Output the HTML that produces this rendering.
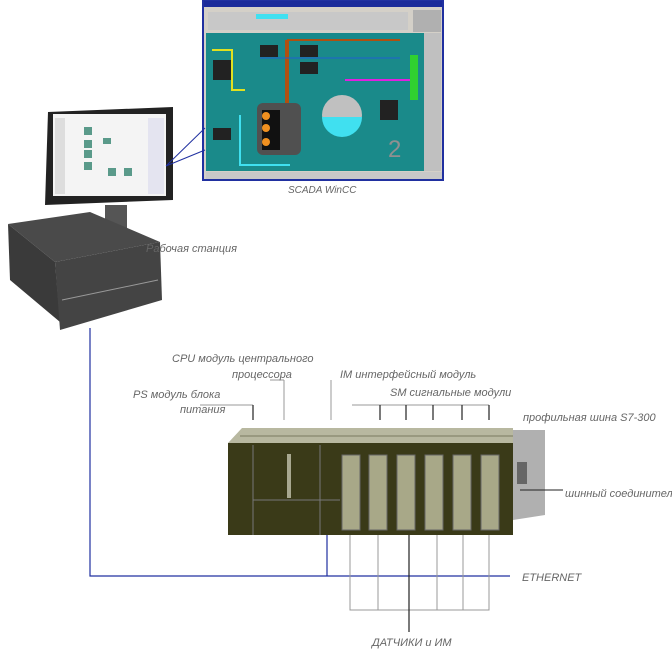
<!DOCTYPE html>
<html><head><meta charset="utf-8"><style>
body{margin:0;background:#fff;width:672px;height:652px;overflow:hidden}
svg{display:block}
text{font-family:"Liberation Sans",sans-serif;font-style:italic;fill:#666;font-size:12px}
</style></head><body>
<svg width="672" height="652" viewBox="0 0 672 652">
<!-- SCADA window -->
<rect x="203" y="0" width="240" height="180" fill="#d4d0c8" stroke="#2030a0" stroke-width="2"/>
<rect x="204" y="1" width="238" height="6" fill="#1a2a9a"/>
<rect x="208" y="12" width="200" height="18" fill="#c8c8c8"/>
<rect x="256" y="14" width="32" height="5" fill="#40e0f0"/>
<rect x="413" y="10" width="28" height="22" fill="#b0b0b0"/>
<rect x="206" y="33" width="218" height="138" fill="#1a8a8a"/>
<rect x="424" y="33" width="17" height="138" fill="#c0c0c0"/>
<rect x="410" y="55" width="8" height="45" fill="#30d030"/>
<path d="M212 50 L232 50 L232 90 L245 90" fill="none" stroke="#e0e020" stroke-width="2"/>
<path d="M287 40 L287 110" stroke="#b05010" stroke-width="4"/>
<path d="M287 40 L400 40" stroke="#b05010" stroke-width="2"/>
<path d="M260 58 L400 58" stroke="#2060d0" stroke-width="1"/>
<path d="M345 80 L410 80" stroke="#e020e0" stroke-width="2"/>
<path d="M240 115 L240 165 L290 165" fill="none" stroke="#40e0f0" stroke-width="2"/>
<g fill="#222"><rect x="300" y="45" width="18" height="12"/><rect x="300" y="62" width="18" height="12"/><rect x="260" y="45" width="18" height="12"/><rect x="380" y="100" width="18" height="20"/><rect x="213" y="60" width="18" height="20"/><rect x="213" y="128" width="18" height="12"/></g>
<rect x="257" y="103" width="44" height="52" rx="6" fill="#505050"/>
<rect x="262" y="110" width="18" height="40" fill="#111"/>
<circle cx="266" cy="116" r="4" fill="#f09020"/><circle cx="266" cy="128" r="4" fill="#f09020"/><circle cx="266" cy="142" r="4" fill="#f09020"/>
<ellipse cx="342" cy="115" rx="20" ry="20" fill="#c0c0c0"/>
<path d="M322 117 A20 20 0 0 0 362 117 Z" fill="#40e0f0"/>
<text x="388" y="157" style="font-size:24px;fill:#909090;font-style:normal">2</text>
<rect x="206" y="172" width="236" height="7" fill="#c8c8c8"/>
<text x="288" y="193" style="font-size:10px">SCADA WinCC</text>
<!-- monitor -->
<path d="M48 112 L173 107 L173 200 L45 205 Z" fill="#222"/>
<rect x="53" y="114" width="113" height="82" fill="#f4f4f4"/>
<rect x="55" y="118" width="10" height="76" fill="#ddd"/>
<rect x="148" y="118" width="16" height="76" fill="#e4e4f0"/>
<g fill="#5a9a8a"><rect x="84" y="127" width="8" height="8"/><rect x="84" y="140" width="8" height="8"/><rect x="84" y="150" width="8" height="8"/><rect x="84" y="162" width="8" height="8"/><rect x="103" y="138" width="8" height="6"/><rect x="108" y="168" width="8" height="8"/><rect x="124" y="168" width="8" height="8"/></g>
<rect x="105" y="205" width="22" height="25" fill="#555"/>
<path d="M166 166 L205 128 M166 166 L205 150" stroke="#2030a0" stroke-width="1"/>
<!-- server -->
<path d="M8 224 L90 212 L160 242 L55 262 Z" fill="#4a4a4a"/>
<path d="M8 224 L55 262 L60 322 L10 280 Z" fill="#3a3a3a"/>
<path d="M55 262 L160 242 L162 300 L60 330 Z" fill="#444"/>
<path d="M62 300 L158 280" stroke="#999" stroke-width="1"/>
<text x="146" y="252" style="font-size:11px">Рабочая станция</text>
<!-- ethernet -->
<path d="M90 328 L90 576 L510 576 M327 533 L327 576" stroke="#2030a0" stroke-width="1.2" fill="none"/>
<text x="522" y="581" style="font-size:11px">ETHERNET</text>
<!-- PLC -->
<path d="M228 443 L242 428 L513 428 L513 443 Z" fill="#b8b8a0"/>
<g stroke="#7a7a60" stroke-width="1"><path d="M240 436 L513 436"/></g>
<rect x="228" y="443" width="285" height="92" fill="#3a3a18"/>
<path d="M253 445 L253 535 M320 445 L320 535 M253 500 L340 500" stroke="#777" stroke-width="1"/>
<rect x="287" y="454" width="4" height="44" fill="#a8a890"/>
<g fill="#a8a888" stroke="#666"><rect x="342" y="455" width="18" height="75"/><rect x="369" y="455" width="18" height="75"/><rect x="397" y="455" width="18" height="75"/><rect x="425" y="455" width="18" height="75"/><rect x="453" y="455" width="18" height="75"/><rect x="481" y="455" width="18" height="75"/></g>
<path d="M513 430 L545 430 L545 515 L513 520 Z" fill="#b0b0b0"/>
<rect x="517" y="462" width="10" height="22" fill="#666"/>
<!-- labels -->
<g stroke="#999" stroke-width="1" fill="none">
<path d="M200 405 L253 405 M270 380 L284 380 M284 380 L284 420 M331 380 L331 420 M352 405 L489 405"/>
<path d="M520 490 L563 490" stroke="#222"/>
</g>
<g stroke="#222" stroke-width="1.2"><path d="M253 405 L253 420 M380 405 L380 420 M406 405 L406 420 M433 405 L433 420 M462 405 L462 420 M489 405 L489 420"/></g>
<text x="172" y="362" style="font-size:11px">CPU модуль центрального</text>
<text x="232" y="378" style="font-size:11px">процессора</text>
<text x="133" y="398" style="font-size:11px">PS модуль блока</text>
<text x="180" y="413" style="font-size:11px">питания</text>
<text x="340" y="378" style="font-size:11px">IM интерфейсный модуль</text>
<text x="390" y="396" style="font-size:11px">SM сигнальные модули</text>
<text x="523" y="421" style="font-size:11px">профильная шина S7-300</text>
<text x="565" y="497" style="font-size:11px">шинный соединитель</text>
<!-- sensors -->
<g stroke="#999" stroke-width="1" fill="none"><path d="M350 535 L350 610 L489 610 L489 535 M378 535 L378 610 M437 535 L437 610 M463 535 L463 610"/></g>
<path d="M409 535 L409 632" stroke="#222" stroke-width="1.2"/>
<text x="372" y="646" style="font-size:11px">ДАТЧИКИ и ИМ</text>
</svg>
</body></html>
